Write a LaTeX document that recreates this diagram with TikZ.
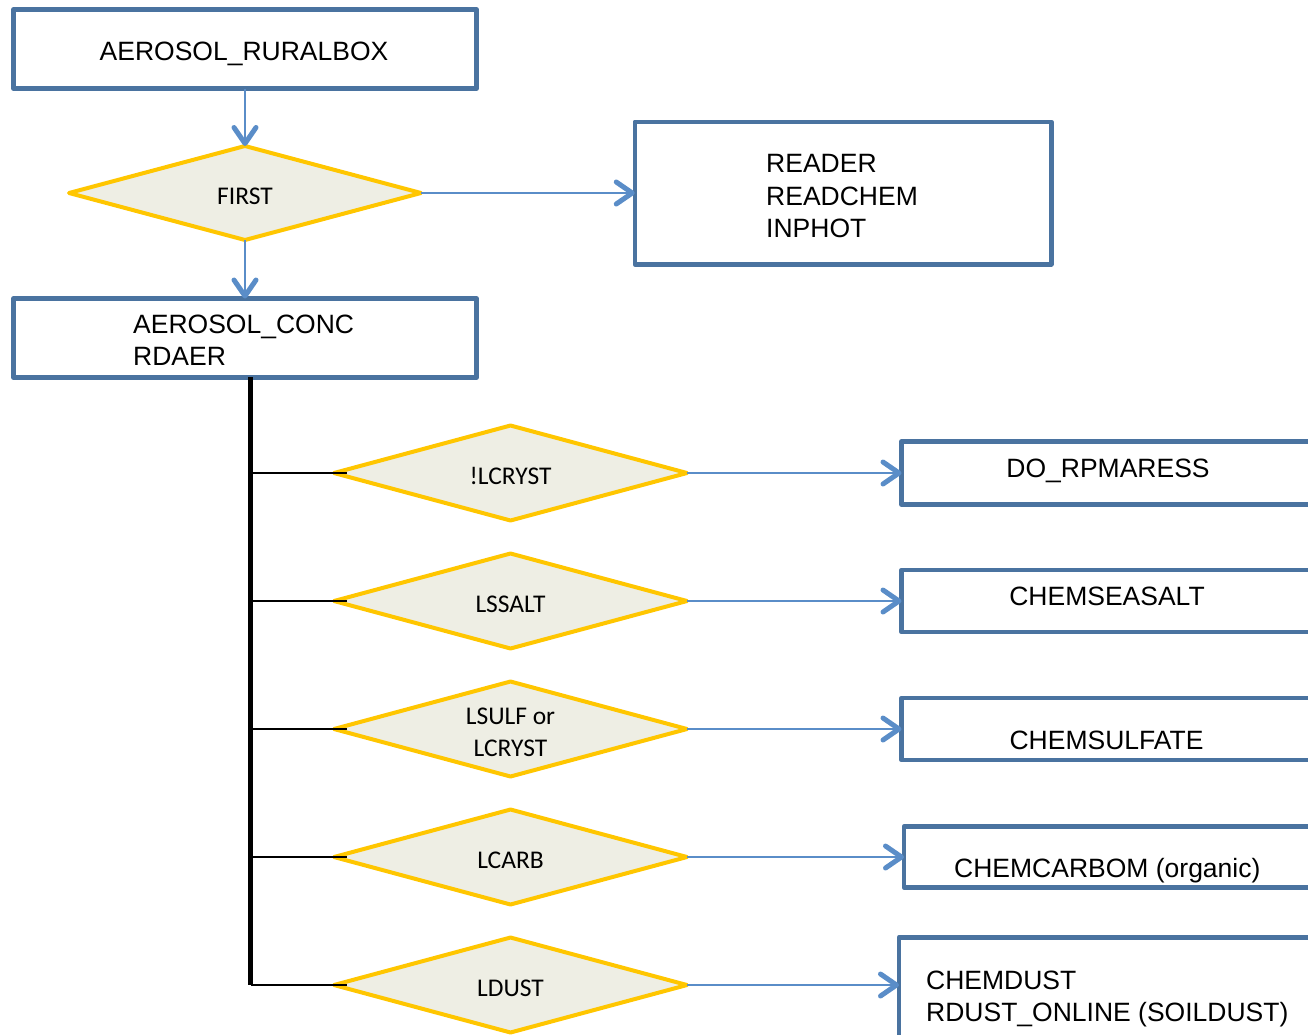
\documentclass[tikz,border=0pt]{standalone}
\usepackage{fontspec}
\setmainfont{Liberation Sans}
\newfontfamily\calibrifont{Carlito}
\usetikzlibrary{shapes.geometric,arrows.meta}
\definecolor{boxblue}{RGB}{74,115,160}
\definecolor{linkblue}{RGB}{90,141,200}
\definecolor{decfill}{RGB}{238,238,228}
\definecolor{decedge}{RGB}{255,198,0}

\begin{document}
\begin{tikzpicture}[x=1pt,y=-1pt,
  procbox/.style={draw=boxblue, line width=4.5pt, rectangle, inner sep=0pt,
    outer sep=0pt, line join=round},
  decision/.style={diamond, draw=decedge, fill=decfill, line width=4pt,
    line join=round, inner sep=0pt, outer sep=0pt, shape aspect=3.7,
    minimum width=353pt, minimum height=95pt, align=center,
    text height=22.5pt,
    font=\calibrifont\fontsize{25.5}{32}\selectfont},
  lbl/.style={inner sep=0pt, font=\fontsize{26.5}{32.5}\selectfont},
  flow/.style={draw=linkblue, line width=2pt,
    arrows={-Straight Barb[length=16pt,width=22pt,line width=5pt,round]}},
  tie/.style={draw=black, line width=2.2pt},
  trunk/.style={draw=black, line width=5pt}
]
\useasboundingbox (0,0) rectangle (1308,1034);
\clip (0,0) rectangle (1308,1034);

% top of the call tree
\node[procbox, minimum width=463pt, minimum height=79pt] (rural) at (245,49) {};
\node[lbl, anchor=base] (ruralT) at (244,60.5) {AEROSOL\_RURALBOX};

\node[decision, minimum width=352pt, minimum height=94pt] (first) at (245,193) {FIRST};

\node[procbox, minimum width=416.5pt, minimum height=142.5pt] (readers) at (843,193) {};
\node[lbl, anchor=base west] (readerT) at (766,172.5) {READER};
\node[lbl, anchor=base west] (readchemT) at (766,205) {READCHEM};
\node[lbl, anchor=base west] (inphotT) at (766,237.5) {INPHOT};

\node[procbox, minimum width=463pt, minimum height=79pt] (conc) at (245,338) {};
\node[lbl, anchor=base west] (concT) at (133,333.5) {AEROSOL\_CONC};
\node[lbl, anchor=base west] (rdaerT) at (133,365.5) {RDAER};

\draw[flow] (rural.south) -- (first.north);
\draw[flow] (first.east) -- (readers.west);
\draw[flow] (first.south) -- (conc.north);

% switch-controlled branches
\node[decision] (dA) at (510.5,473) {!LCRYST};
\node[decision] (dB) at (510.5,601) {LSSALT};
\node[decision, text height=54.5pt] (dC) at (510.5,729) {LSULF or\\LCRYST};
\node[decision] (dD) at (510.5,857) {LCARB};
\node[decision] (dE) at (510.5,985) {LDUST};

\node[procbox, minimum width=438.5pt, minimum height=63pt] (bA) at (1120.75,473) {};
\node[lbl, anchor=base] (bAT) at (1108,477.5) {DO\_RPMARESS};
\node[procbox, minimum width=438.5pt, minimum height=62pt] (bB) at (1120.75,601) {};
\node[lbl, anchor=base] (bBT) at (1107,605.5) {CHEMSEASALT};
\node[procbox, minimum width=438.5pt, minimum height=62pt] (bC) at (1120.75,729) {};
\node[lbl, anchor=base] (bCT) at (1106.5,749.5) {CHEMSULFATE};
\node[procbox, minimum width=436pt, minimum height=61pt] (bD) at (1122,857) {};
\node[lbl, anchor=base west] (bDT) at (954,877.5) {CHEMCARBOM (organic)};
\node[procbox, minimum width=441pt, minimum height=107.5pt] (bE) at (1119.5,991) {};
\node[lbl, anchor=base west] (bET1) at (926,989.5) {CHEMDUST};
\node[lbl, anchor=base west] (bET2) at (926,1021.5) {RDUST\_ONLINE (SOILDUST)};

\foreach \d/\b in {dA/bA,dB/bB,dC/bC,dD/bD}
  \draw[flow] (\d.east) -- (\b.west);
\draw[flow] (dE.east) -- (dE.east -| bE.west);

% vertical bus feeding the branches
\coordinate (busTop) at (250.5,377);
\coordinate (busEnd) at (250.5,985);
\draw[trunk] (busTop) -- (busEnd);
\foreach \d in {dA,dB,dC,dD,dE}
  \draw[tie] (busTop |- \d.west) -- ([xshift=13pt]\d.west);
\end{tikzpicture}
\end{document}
